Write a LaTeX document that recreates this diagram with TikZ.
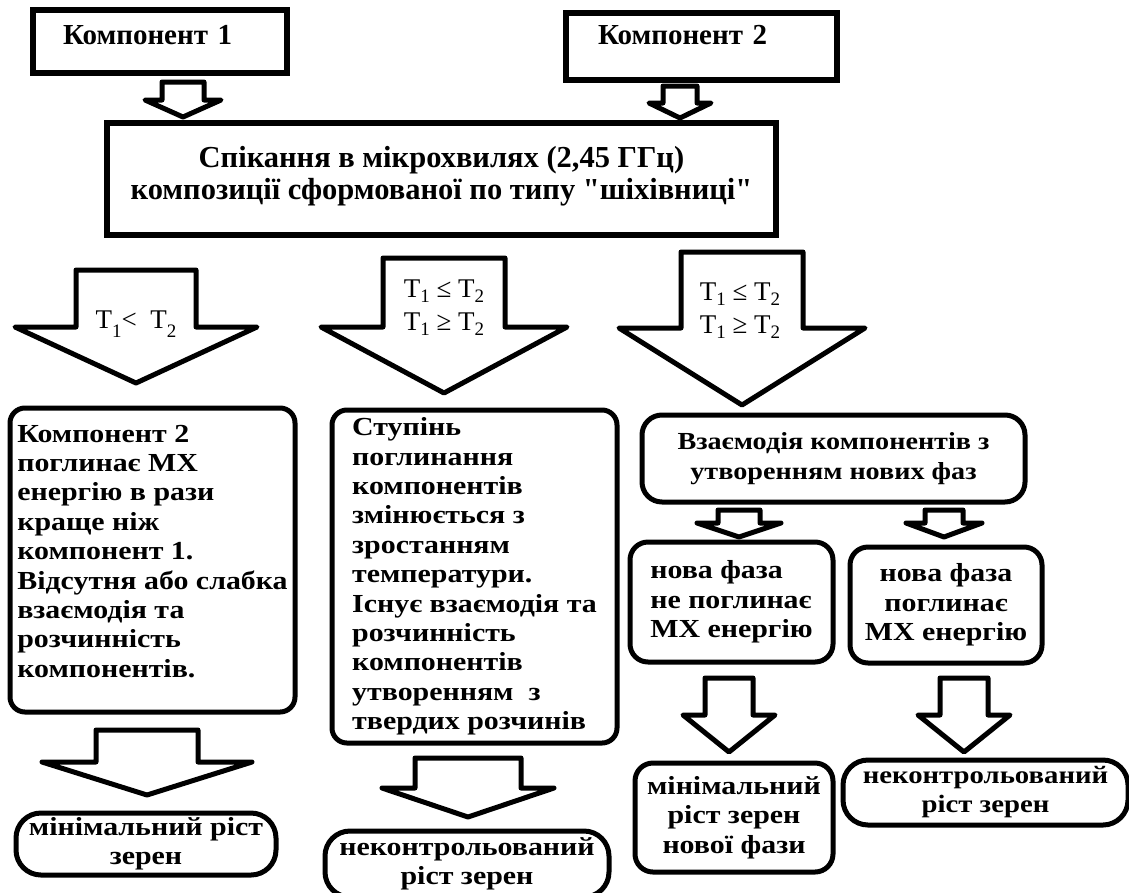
\documentclass[tikz,border=0pt]{standalone}
\usepackage{fontspec}
\setmainfont{Liberation Serif}
\newfontfamily\widefont[FakeStretch=1.15]{Liberation Serif}

\tikzstyle{sqbox}  = [draw, line width=5.5pt, inner sep=0pt, font=\fontsize{29}{36}\selectfont\bfseries]
\tikzstyle{rbox}   = [draw, line width=5pt, rounded corners=15pt, inner sep=0pt, font=\widefont\fontsize{26}{29.4}\selectfont\bfseries]
\tikzstyle{oval}   = [rbox, rounded corners=25pt]
\tikzstyle{barrow} = [draw, line width=5pt, line join=round, fill=white]
\tikzstyle{cond}   = [inner sep=0pt, align=center, font=\fontsize{27}{33}\selectfont]

\newcommand{\tsub}[2][-5pt]{\raisebox{#1}{\fontsize{19}{19}\selectfont #2}}
% block arrow: centre x, top, shoulder, tip, half shaft, half head
\newcommand{\blockarrow}[6]{%
  \draw[barrow] ({#1-#5},#2) -- ({#1+#5},#2) -- ({#1+#5},#3) -- ({#1+#6},#3)
    -- (#1,#4) -- ({#1-#6},#3) -- ({#1-#5},#3) -- cycle;}

\begin{document}
\begin{tikzpicture}[x=1pt, y=-1pt]
  \useasboundingbox (0,0) rectangle (1129,892);

  % components and sintering
  \node[sqbox, minimum width=254pt, minimum height=63pt, text width=194pt, align=left, text depth=13pt] (komp1) at (160,41.5) {Компонент 1};
  \node[sqbox, minimum width=271pt, minimum height=67pt, text width=207pt, align=left, text depth=23pt] (komp2) at (701.5,46.5) {Компонент 2};
  \blockarrow{183}{82}{100}{117}{21}{38}
  \blockarrow{680}{86}{103}{118}{17}{31}
  \node[sqbox, font=\fontsize{30.5}{32}\selectfont\bfseries, minimum width=669pt, minimum height=112pt, align=center, text depth=12pt] (spik) at (441.5,179)
    {Спікання в мікрохвилях (2,45 ГГц)\\ композиції сформованої по типу \textquotedbl шіхівниці\textquotedbl};

  % three cases
  \blockarrow{136}{270}{327}{383}{60}{121}
  \node[cond] (umovaA) at (136,324) {T\tsub[-9pt]{1}<\ \ T\tsub[-9pt]{2}};
  \blockarrow{444}{258}{327}{393}{61}{123}
  \node[cond] (umovaB) at (444,308) {T\tsub{1} ≤ T\tsub{2}\\ T\tsub{1} ≥ T\tsub{2}};
  \blockarrow{742}{252}{328}{405}{61}{123}
  \node[cond] (umovaC) at (740,311) {T\tsub{1} ≤ T\tsub{2}\\ T\tsub{1} ≥ T\tsub{2}};

  \node[rbox, minimum width=285pt, minimum height=304pt, align=left, text depth=18pt] (pogl) at (152.5,560)
    {Компонент 2\\ поглинає МХ\\ енергію в рази\\ краще ніж\\ компонент 1.\\ Відсутня або слабка\\ взаємодія та\\ розчинність\\ компонентів.};
  \node[rbox, minimum width=285pt, minimum height=333pt, align=left] (stup) at (474.5,576.5)
    {Ступінь\\ поглинання\\ компонентів\\ змінюється з\\ зростанням\\ температури.\\ Існує взаємодія та\\ розчинність\\ компонентів\\ утворенням\ \ з\\ твердих розчинів};
  \node[rbox, font=\widefont\fontsize{24.5}{29.4}\selectfont\bfseries, rounded corners=20pt, minimum width=383pt, minimum height=87pt, align=center] (vzaem) at (833.5,458.5)
    {Взаємодія компонентів з\\ утворенням нових фаз};

  % new phases
  \blockarrow{739}{510}{523}{537}{21}{42}
  \blockarrow{944}{510}{523}{537}{19}{38}
  \node[rbox, rounded corners=18pt, minimum width=203pt, minimum height=120pt, align=left] (nepogl) at (731.5,602)
    {нова фаза\\ не поглинає\\ МХ енергію};
  \node[rbox, rounded corners=18pt, minimum width=192pt, minimum height=116pt, align=center] (nfpogl) at (946,605)
    {нова фаза\\ поглинає\\ МХ енергію};

  % grain growth
  \blockarrow{147}{730}{762}{795}{51}{105}
  \blockarrow{468}{758}{788}{817}{53}{86}
  \blockarrow{729}{678}{715}{752}{24}{46}
  \blockarrow{964}{678}{715}{752}{24}{46}
  \node[oval, minimum width=260pt, minimum height=62pt, align=center] (minr1) at (146,844) {мінімальний ріст\\ зерен};
  \node[oval, minimum width=284pt, minimum height=66pt, align=center] (nekr1) at (467,864) {неконтрольований\\ ріст зерен};
  \node[rbox, rounded corners=18pt, minimum width=198pt, minimum height=109pt, align=center] (minr2) at (734,817.5) {мінімальний\\ ріст зерен\\ нової фази};
  \node[oval, font=\widefont\fontsize{25}{29}\selectfont\bfseries, minimum width=285pt, minimum height=65pt, align=center] (nekr2) at (985.5,792.5) {неконтрольований\\ ріст зерен};
\end{tikzpicture}
\end{document}
